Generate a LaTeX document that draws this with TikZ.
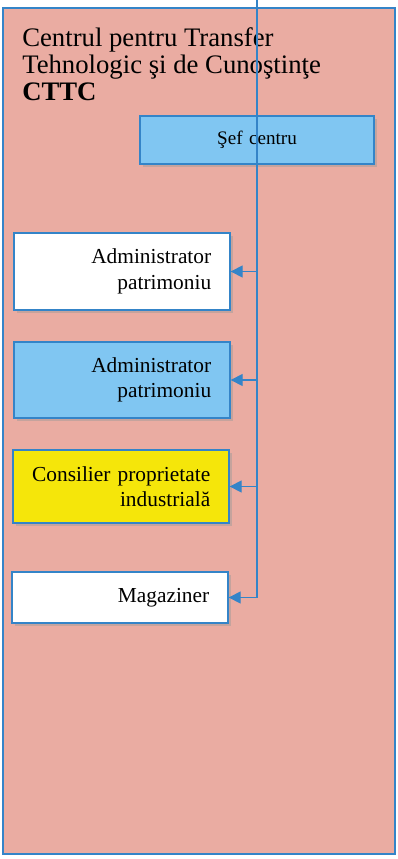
\documentclass[tikz,border=0pt]{standalone}
\usepackage{fontspec}
\setmainfont{Liberation Serif}
\usepackage{xcolor}
\usetikzlibrary{arrows.meta}
\usetikzlibrary{shadows}

\definecolor{panel}{RGB}{234,172,162}
\definecolor{rule}{RGB}{52,132,200}
\definecolor{skyfill}{RGB}{128,198,242}
\definecolor{goldfill}{RGB}{245,230,10}

\tikzset{
  unit/.style={draw=rule, line width=0.9pt, rectangle, align=right,
    text width=4.46cm, inner xsep=0.47cm, minimum width=5.4cm,
    font=\fontsize{15.2}{18}\selectfont,
    drop shadow={shadow xshift=0.7mm, shadow yshift=-0.7mm, fill=black!40, opacity=0.45}},
  feed/.style={draw=rule, line width=0.9pt, -{Triangle[length=3mm,width=3mm]}}
}

\begin{document}
\begin{tikzpicture}[x=0.025cm, y=-0.025cm]
    \useasboundingbox (0,0) rectangle (398,859);
    \draw[rule, line width=1pt, fill=panel] (3,8) rectangle (395,854);
    \node[anchor=north west, align=left, inner sep=0pt,
      font=\fontsize{19}{19.4}\selectfont] (title) at (22,27)
      {Centrul pentru Transfer\\Tehnologic şi de Cunoştinţe\\\textbf{CTTC}};
    \coordinate (top) at (257,0);
    \coordinate (foot) at (257,596);
    \node[unit, fill=skyfill, text width=4.9cm, align=center, minimum width=5.85cm,
      minimum height=1.2cm, font=\fontsize{13.6}{16}\selectfont] (sef) at (257,140) {Şef centru};
    \node[unit, fill=white, minimum height=1.925cm] (adm1) at (122,271.5) {Administrator\\patrimoniu};
    \node[unit, fill=skyfill, minimum height=1.9cm] (adm2) at (122,380) {Administrator\\patrimoniu};
    \node[unit, fill=goldfill, minimum height=1.825cm] (cons) at (121,486.5) {Consilier proprietate\\industrială};
    \node[unit, fill=white, minimum height=1.275cm] (mag) at (120,597.5) {Magaziner};
    \draw[rule, line width=1pt] (top) -- (foot);
    \draw[feed] (foot |- adm1.east) -- (adm1.east);
    \draw[feed] (foot |- adm2.east) -- (adm2.east);
    \draw[feed] (foot |- cons.east) -- (cons.east);
    \draw[feed] (foot) |- (mag.east);
  \end{tikzpicture}
\end{document}
